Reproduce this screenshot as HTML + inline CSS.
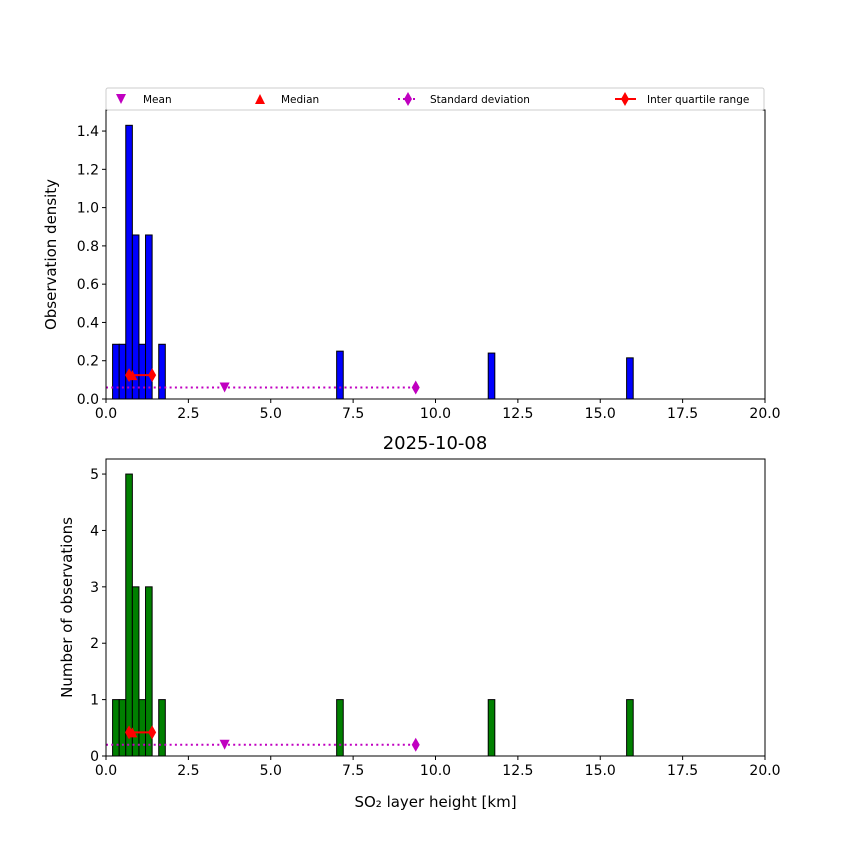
<!DOCTYPE html>
<html><head><meta charset="utf-8"><style>
html,body{margin:0;padding:0;background:#fff;}
svg text{font-family:"DejaVu Sans","Liberation Sans",sans-serif;}
</style></head><body>
<svg id="c" width="850" height="850" xmlns="http://www.w3.org/2000/svg"></svg>
<script>
const binStarts=[0.2,0.4,0.6,0.8,1.0,1.2,1.6,7.0,11.6,15.8];
const counts=[1,1,5,3,1,3,1,1,1,1];
const densities=[0.286,0.286,1.43,0.857,0.286,0.857,0.286,0.25,0.24,0.215];
const binWidth=0.2;
const meanVal=3.6, medianVal=0.8, stdHi=9.4, q1=0.7, q3=1.4;
const statYTop=0.06, iqrYTop=0.125, statYBot=0.2, iqrYBot=0.42;
const xTicks=[0,2.5,5,7.5,10,12.5,15,17.5,20];
const xTickLabels=["0.0","2.5","5.0","7.5","10.0","12.5","15.0","17.5","20.0"];
const yTicksTop=[0,0.2,0.4,0.6,0.8,1.0,1.2,1.4];
const yTicksBot=[0,1,2,3,4,5];

const svg=document.getElementById('c');
const NS='http://www.w3.org/2000/svg';
function mk(t,a,p){const e=document.createElementNS(NS,t);for(const k in a)e.setAttribute(k,a[k]);(p||svg).appendChild(e);return e;}
const L=106,R=765;
const sx=v=>L+(v/20)*(R-L);

function panel(top,bottom,ymax,yTicks,yfmt,vals,color,ylabel,name,sy0,iy0,xlabel,ylx){
  const g=mk('g',{});
  
  
  const sy=v=>bottom-(v/ymax)*(bottom-top);
  vals.forEach((v,i)=>{
    const r=mk('rect',{x:sx(binStarts[i]),y:sy(v),width:sx(binStarts[i]+binWidth)-sx(binStarts[i]),height:bottom-sy(v),fill:color,stroke:'#000','stroke-width':1},g);
    
    
  });
  const sl=mk('line',{x1:sx(0),x2:sx(stdHi),y1:sy(sy0),y2:sy(sy0),stroke:'#c000c0','stroke-width':2,'stroke-dasharray':'2,3.3'},g);
  
  
  const sd=mk('polygon',{points:`${sx(stdHi)-4},${sy(sy0)} ${sx(stdHi)},${sy(sy0)-7} ${sx(stdHi)+4},${sy(sy0)} ${sx(stdHi)},${sy(sy0)+7}`,fill:'#c000c0'},g);
  
  
  const mm=mk('polygon',{points:`${sx(meanVal)-5},${sy(sy0)-5} ${sx(meanVal)+5},${sy(sy0)-5} ${sx(meanVal)},${sy(sy0)+5}`,fill:'#c000c0'},g);
  
  
  const il=mk('line',{x1:sx(q1),x2:sx(q3),y1:sy(iy0),y2:sy(iy0),stroke:'red','stroke-width':2},g);
  
  
  [q1,q3].forEach(q=>{
    const d=mk('polygon',{points:`${sx(q)-4},${sy(iy0)} ${sx(q)},${sy(iy0)-7} ${sx(q)+4},${sy(iy0)} ${sx(q)},${sy(iy0)+7}`,fill:'red'},g);
    
    
  });
  const md=mk('polygon',{points:`${sx(medianVal)-5},${sy(iy0)+5} ${sx(medianVal)+5},${sy(iy0)+5} ${sx(medianVal)},${sy(iy0)-5}`,fill:'red'},g);
  
  
  const fr=mk('rect',{x:L,y:top,width:R-L,height:bottom-top,fill:'none',stroke:'#000','stroke-width':1},g);
  
  
  xTicks.forEach((t,i)=>{
    mk('line',{x1:sx(t),x2:sx(t),y1:bottom,y2:bottom+4,stroke:'#000'},g);
    const tx=mk('text',{x:sx(t),y:bottom+19,'text-anchor':'middle','font-size':14},g);
    tx.textContent=xTickLabels[i];
    
    
  });
  yTicks.forEach(t=>{
    mk('line',{x1:L-4,x2:L,y1:sy(t),y2:sy(t),stroke:'#000'},g);
    const tx=mk('text',{x:L-7,y:sy(t)+5,'text-anchor':'end','font-size':14},g);
    tx.textContent=yfmt(t);
    
    
  });
  const yl=mk('text',{x:0,y:0,'text-anchor':'middle','font-size':15,transform:`translate(${ylx},${(top+bottom)/2}) rotate(-90)`},g);
  yl.textContent=ylabel;
  
  
  if(xlabel){
    const xl=mk('text',{x:(L+R)/2,y:bottom+51,'text-anchor':'middle','font-size':15},g);
    xl.textContent=xlabel;
    
    
  }
}
panel(110,399,1.51,yTicksTop,t=>t.toFixed(1),densities,'#0000ff','Observation density','top-panel',statYTop,iqrYTop,null,56);
panel(459,756,5.267,yTicksBot,t=>String(t),counts,'#008000','Number of observations','bottom-panel',statYBot,iqrYBot,'SO\u2082 layer height [km]',72);
const title=mk('text',{x:435,y:449,'text-anchor':'middle','font-size':18});
title.textContent='2025-10-08';



const lg=mk('g',{});


mk('rect',{x:106,y:88,width:658,height:22,rx:2,fill:'#fff',stroke:'#ccc'},lg);
const ly=99;
const e1=mk('polygon',{points:`116,${ly-5} 126,${ly-5} 121,${ly+5}`,fill:'#c000c0'},lg);


const e2=mk('polygon',{points:`255,${ly+5} 265,${ly+5} 260,${ly-5}`,fill:'red'},lg);


mk('line',{x1:398,x2:418,y1:ly,y2:ly,stroke:'#c000c0','stroke-width':2,'stroke-dasharray':'2,3'},lg);
mk('polygon',{points:`404,${ly} 408,${ly-7} 412,${ly} 408,${ly+7}`,fill:'#c000c0'},lg);
mk('line',{x1:615,x2:636,y1:ly,y2:ly,stroke:'red','stroke-width':2},lg);
mk('polygon',{points:`621,${ly} 625,${ly-7} 629,${ly} 625,${ly+7}`,fill:'red'},lg);
[['Mean',143],['Median',281],['Standard deviation',430],['Inter quartile range',647]].forEach(([t,x])=>{
  const tx=mk('text',{x:x,y:ly+4,'font-size':10.5},lg);
  tx.textContent=t;
  
  
});
</script>
</body></html>
